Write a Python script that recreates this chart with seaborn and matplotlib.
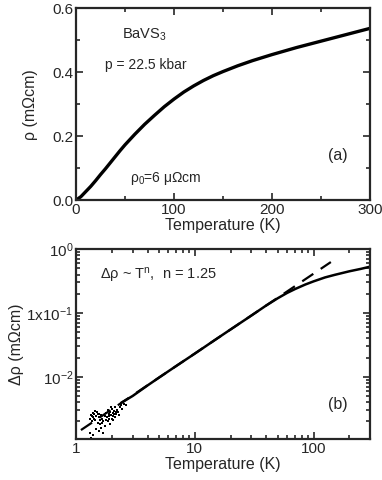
import matplotlib
matplotlib.use("Agg")
import matplotlib.pyplot as plt
import matplotlib.ticker as mticker
import numpy as np
import pandas as pd
import seaborn as sns

# ---- data ----
# (a) resistivity vs temperature
temp_a = [0, 5, 10, 15, 20, 25, 30, 35, 40, 45, 50, 60, 70, 80, 90, 100, 110, 120, 130,
          140, 150, 165, 180, 200, 225, 250, 275, 300]
rho_a = [0.0, 0.011, 0.027, 0.043, 0.061, 0.080, 0.098, 0.117, 0.136, 0.155, 0.173,
         0.206, 0.237, 0.265, 0.292, 0.316, 0.338, 0.357, 0.374, 0.389, 0.402, 0.420,
         0.436, 0.455, 0.477, 0.497, 0.517, 0.537]

# (b) delta rho vs temperature (log-log)
temp_b = [2.4, 3, 4, 5, 7, 10, 15, 20, 30, 40, 50, 60, 70, 85, 100, 125, 150, 200, 250, 300]
drho_b = [0.0039, 0.0050, 0.0073, 0.0097, 0.0148, 0.023, 0.0384, 0.055, 0.091, 0.131,
          0.170, 0.206, 0.237, 0.278, 0.312, 0.360, 0.394, 0.449, 0.490, 0.531]

# noisy low-temperature points
temp_pts = [1.30, 1.33, 1.36, 1.38, 1.40, 1.42, 1.45, 1.47, 1.50, 1.52, 1.55, 1.58,
            1.60, 1.63, 1.66, 1.70, 1.74, 1.78, 1.82, 1.85, 1.88, 1.90, 1.93, 1.96,
            2.00, 2.03, 2.06, 2.10, 2.14, 2.18, 2.22, 2.27, 2.33, 2.40,
            1.32, 1.40, 1.48, 1.55, 1.62, 1.70, 1.76, 1.35, 1.65, 1.95, 2.05, 2.30,
            1.44, 1.53, 1.86, 1.98, 2.12, 2.45, 2.55, 2.65,
            1.37, 1.43, 1.57, 1.80, 1.91, 2.01, 2.08, 2.16]
drho_pts = [0.0022, 0.0025, 0.0020, 0.0027, 0.0023, 0.0026, 0.0021, 0.0024, 0.0028, 0.0019,
            0.0023, 0.0021, 0.0018, 0.0025, 0.0022, 0.0020, 0.0024, 0.0027, 0.0023, 0.0030,
            0.0026, 0.0022, 0.0028, 0.0025, 0.0031, 0.0027, 0.0024, 0.0029, 0.0033, 0.0026,
            0.0030, 0.0028, 0.0034, 0.0036,
            0.0013, 0.0012, 0.0015, 0.0014, 0.0016, 0.0013, 0.0017, 0.0011, 0.0019, 0.0018,
            0.0021, 0.0025,
            0.0029, 0.0026, 0.0020, 0.0034, 0.0023, 0.0031, 0.0038, 0.0036,
            0.0024, 0.0022, 0.0026, 0.0021, 0.0024, 0.0022, 0.0026, 0.0028]

# dashed power-law fit (n = 1.25), end points
temp_fit = [1.1, 140]
drho_fit = [0.00146, 0.627]

# ---- style ----
sns.set_style("ticks")
plt.rcParams['font.family'] = ['Liberation Sans', 'DejaVu Sans']
plt.rcParams['mathtext.default'] = 'regular'
plt.rcParams['xtick.direction'] = 'in'
plt.rcParams['ytick.direction'] = 'in'

fig = plt.figure(figsize=(3.82, 4.8), dpi=100)
ax1 = fig.add_axes([0.199, 0.583, 0.770, 0.400])
ax2 = fig.add_axes([0.199, 0.085, 0.770, 0.396])

# ==========================================
# (a) linear panel
# ==========================================
df_a = pd.DataFrame({"T": temp_a, "rho": rho_a})
sns.lineplot(data=df_a, x="T", y="rho", ax=ax1, color="black", lw=2.4)
ax1.set_xlim(0, 300)
ax1.set_ylim(0, 0.6)
ax1.xaxis.set_major_locator(mticker.MultipleLocator(100))
ax1.xaxis.set_minor_locator(mticker.MultipleLocator(50))
ax1.yaxis.set_major_locator(mticker.MultipleLocator(0.2))
ax1.yaxis.set_minor_locator(mticker.MultipleLocator(0.1))
ax1.yaxis.set_major_formatter(mticker.FormatStrFormatter('%.1f'))
ax1.set_xlabel("Temperature (K)", fontsize=11.5, labelpad=1)
ax1.set_ylabel("ρ (mΩcm)", fontsize=11.5, labelpad=10)

ax1.text(0.156, 0.86, "BaVS$_3$", transform=ax1.transAxes, fontsize=10.5, va="center")
ax1.text(0.099, 0.703, "p = 22.5 kbar", transform=ax1.transAxes, fontsize=10, va="center")
ax1.text(0.184, 0.115, "ρ$_0$=6 μΩcm", transform=ax1.transAxes, fontsize=10, va="center")
ax1.text(0.857, 0.234, "(a)", transform=ax1.transAxes, fontsize=11.5, va="center")

# ==========================================
# (b) log-log panel
# ==========================================
df_b = pd.DataFrame({"T": temp_b, "drho": drho_b})
df_pts = pd.DataFrame({"T": temp_pts, "drho": drho_pts})
df_fit = pd.DataFrame({"T": temp_fit, "drho": drho_fit})

sns.lineplot(data=df_fit, x="T", y="drho", ax=ax2, color="black", lw=1.6,
             linestyle=(0, (6, 4)))
sns.lineplot(data=df_b, x="T", y="drho", ax=ax2, color="black", lw=1.8)
sns.scatterplot(data=df_pts, x="T", y="drho", ax=ax2, color="black", s=4.5,
                marker="s", linewidth=0)
ax2.set_xscale("log")
ax2.set_yscale("log")
ax2.set_xlim(1, 300)
ax2.set_ylim(1.05e-3, 1)
ax2.set_xticks([1, 10, 100])
ax2.set_xticklabels(["1", "10", "100"])
ax2.set_yticks([1e-2, 1e-1, 1])
ax2.set_yticklabels(["10$^{-2}$", "1x10$^{-1}$", "10$^{0}$"])
ax2.xaxis.set_minor_locator(mticker.LogLocator(base=10, subs=np.arange(2, 10)))
ax2.yaxis.set_minor_locator(mticker.LogLocator(base=10, subs=np.arange(2, 10)))
ax2.xaxis.set_minor_formatter(mticker.NullFormatter())
ax2.yaxis.set_minor_formatter(mticker.NullFormatter())
ax2.set_xlabel("Temperature (K)", fontsize=11.5, labelpad=1)
ax2.set_ylabel("Δρ (mΩcm)", fontsize=11.5, labelpad=2)

ax2.text(0.082, 0.863, "Δρ ~ T$^n$,  n = 1.25", transform=ax2.transAxes, fontsize=10.5,
         va="center")
ax2.text(0.857, 0.18, "(b)", transform=ax2.transAxes, fontsize=11.5, va="center")

for ax in (ax1, ax2):
    ax.tick_params(which="both", top=True, right=True, direction="in", width=1.2)
    ax.tick_params(which="major", length=5, labelsize=11, pad=2)
    ax.tick_params(which="minor", length=3)
    for sp in ax.spines.values():
        sp.set_linewidth(1.6)
        sp.set_visible(True)

fig.savefig("out.png", dpi=100)
